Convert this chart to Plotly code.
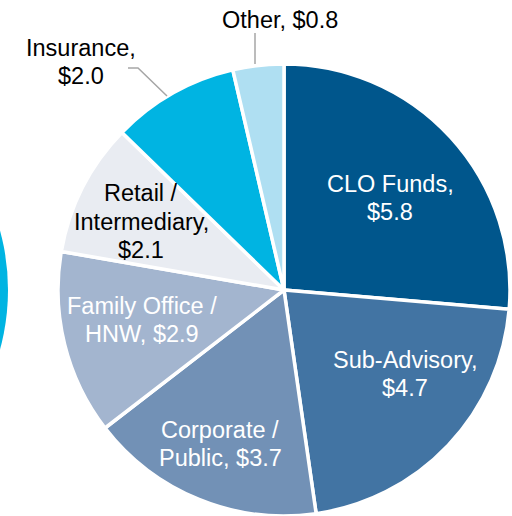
import plotly.graph_objects as go

# ---- data ----
categories = ["CLO Funds", "Sub-Advisory", "Corporate / Public", "Family Office / HNW",
              "Retail / Intermediary", "Insurance", "Other"]
values = [5.8, 4.7, 3.7, 2.9, 2.1, 2.0, 0.8]
label_lines = [["CLO Funds,", "$5.8"], ["Sub-Advisory,", "$4.7"], ["Corporate /", "Public, $3.7"],
               ["Family Office /", "HNW, $2.9"], ["Retail /", "Intermediary,", "$2.1"],
               ["Insurance,", "$2.0"], ["Other, $0.8"]]

# ---- style ----
colors = ["#00568C", "#4274A3", "#7291B6", "#A3B5CF", "#E9ECF2", "#00B4E2", "#AFDFF2"]
text_colors = ["white", "white", "white", "white", "black", "black", "black"]
label_px = [(390, 198), (405, 374), (220, 444), (142, 320), (141, 221.5), (81, 62), (280, 20)]
LINE_GAP = 28.3
FONT_SIZE = 23.5

W, H = 512, 516
FONT = "Liberation Sans, Arial, sans-serif"


def px(x, y):
    return x / W, (H - y) / H


fig = go.Figure()
fig.add_trace(go.Pie(
    labels=categories, values=values, sort=False, direction="clockwise", rotation=0,
    marker=dict(colors=colors, line=dict(color="white", width=3.5)),
    textinfo="none", hoverinfo="label+value", showlegend=False,
    domain=dict(x=[58 / W, 510 / W], y=[0, (H - 64) / H]),
))

annotations = []
for lines, (lx, ly), tc in zip(label_lines, label_px, text_colors):
    n = len(lines)
    for i, line in enumerate(lines):
        ax, ay = px(lx, ly + (i - (n - 1) / 2) * LINE_GAP)
        annotations.append(dict(x=ax, y=ay, xref="paper", yref="paper", text=line,
                                showarrow=False, xanchor="center", yanchor="middle",
                                font=dict(family=FONT, size=FONT_SIZE, color=tc)))

shapes = []
# partial neighbouring chart at the left edge
c0 = px(-217 - 225, 290 - 225)
c1 = px(-217 + 225, 290 + 225)
shapes.append(dict(type="circle", xref="paper", yref="paper", x0=c0[0], y0=c1[1], x1=c1[0], y1=c0[1],
                   fillcolor="#00B4E2", line=dict(width=0), layer="below"))


def path(points):
    s = ""
    for i, (x, y) in enumerate(points):
        X, Y = px(x, y)
        s += ("M" if i == 0 else "L") + f"{X},{Y} "
    return s


shapes.append(dict(type="path", xref="paper", yref="paper", path=path([(128, 68), (138, 68), (167, 96)]),
                   line=dict(color="#A6A6A6", width=1.5)))
shapes.append(dict(type="path", xref="paper", yref="paper", path=path([(255, 33), (255, 64)]),
                   line=dict(color="#A6A6A6", width=1.5)))

fig.update_layout(width=W, height=H, margin=dict(l=0, r=0, t=0, b=0),
                  paper_bgcolor="white", plot_bgcolor="white",
                  annotations=annotations, shapes=shapes)
fig.write_html("out.html", config={"displayModeBar": False},
               post_script="document.body.style.margin='0';document.documentElement.style.margin='0';")
